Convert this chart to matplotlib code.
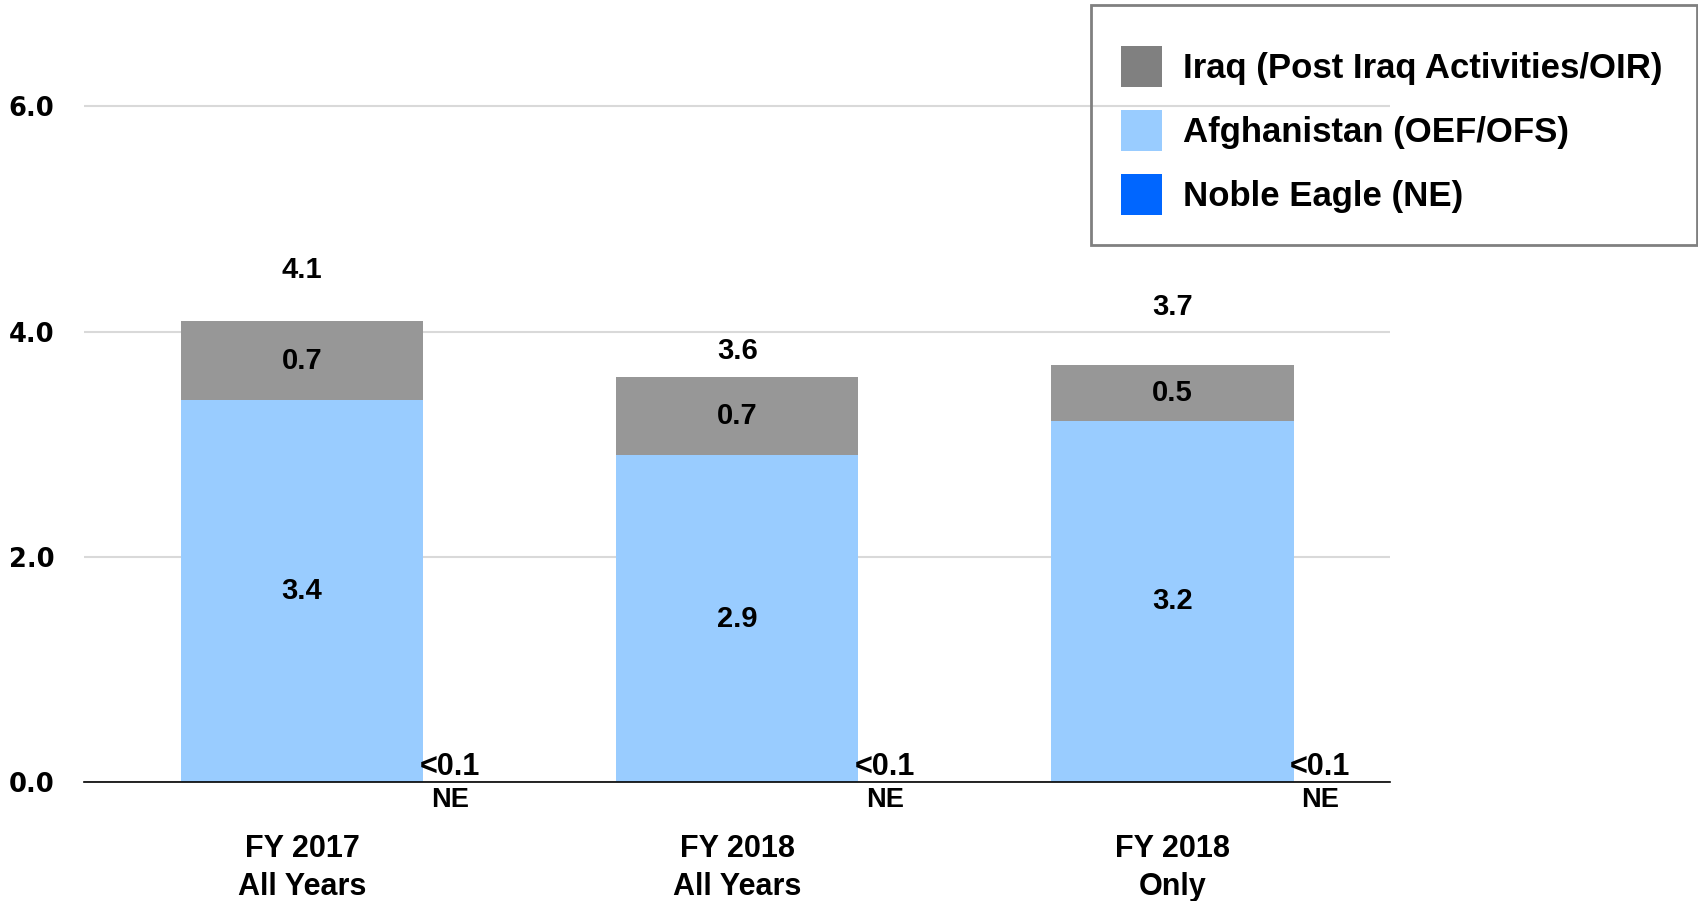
import matplotlib
matplotlib.use("Agg")
import matplotlib.pyplot as plt
from matplotlib.patches import Patch, Rectangle

plt.rcParams['font.family'] = ['Liberation Sans', 'DejaVu Sans']
plt.rcParams['font.weight'] = 'bold'

categories = ["FY 2017\nAll Years", "FY 2018\nAll Years", "FY 2018\nOnly"]
afghanistan = [3.39, 2.90, 3.21]
iraq = [0.70, 0.70, 0.49]
noble_eagle = [0.0, 0.0, 0.0]
afg_labels = ["3.4", "2.9", "3.2"]
iraq_labels = ["0.7", "0.7", "0.5"]
total_labels = ["4.1", "3.6", "3.7"]
total_label_pos = [4.55, 3.83, 4.22]
ne_labels = ["<0.1", "<0.1", "<0.1"]
yticks = [0.0, 2.0, 4.0, 6.0]

c_iraq = "#979797"
c_iraq_leg = "#808080"
c_afg = "#99ccff"
c_ne = "#0066ff"

W, H = 1699, 901
fig = plt.figure(figsize=(W / 100, H / 100), dpi=100)
ax = fig.add_axes([0.0497, 0.132, 0.7684, 0.825])

x = list(range(len(categories)))
w = 0.557
ax.bar(x, afghanistan, width=w, color=c_afg, zorder=2)
ax.bar(x, iraq, width=w, bottom=afghanistan, color=c_iraq, zorder=2)
ne_x = [xi + 0.34 for xi in x]
ax.bar(ne_x, noble_eagle, width=0.05, color=c_ne, zorder=2)

fs = 21
for i in x:
    ax.text(i, afghanistan[i] / 2, afg_labels[i], ha='center', va='center', fontsize=fs, fontweight='bold')
    ax.text(i, afghanistan[i] + iraq[i] / 2, iraq_labels[i], ha='center', va='center', fontsize=fs, fontweight='bold')
    ax.text(i, total_label_pos[i], total_labels[i], ha='center', va='center', fontsize=fs, fontweight='bold')
    ax.text(ne_x[i], noble_eagle[i] + 0.13, ne_labels[i], ha='center', va='center', fontsize=22, fontweight='bold')
    ax.text(ne_x[i], -0.16, "NE", ha='center', va='center', fontsize=19.5, fontweight='bold')

ax.set_xlim(-0.5, 2.5)
ax.set_ylim(0, 6.6)
ax.set_yticks(yticks)
ax.set_yticklabels([f"{v:.1f}" for v in yticks], fontsize=18.5, fontweight='bold',
                   family=['DejaVu Sans'])
ax.yaxis.grid(True, color="#d9d9d9", linewidth=1.5, zorder=0)
ax.set_axisbelow(True)
for s in ['top', 'right', 'left']:
    ax.spines[s].set_visible(False)
ax.spines['bottom'].set_color('black')
ax.spines['bottom'].set_linewidth(1.2)
ax.tick_params(axis='y', length=0, pad=21.5)
ax.tick_params(axis='x', length=0, pad=37.5)
ax.set_xticks(x)
ax.set_xticklabels(categories, fontsize=22, fontweight='bold', linespacing=1.35)

# legend frame
fig.patches.append(Rectangle((1091 / W, 1 - 245 / H), (1697 - 1091) / W, (245 - 4.5) / H,
                             transform=fig.transFigure, fill=False, edgecolor="#808080",
                             linewidth=2, zorder=5))

handles = [Patch(facecolor=c_iraq_leg, label="Iraq (Post Iraq Activities/OIR)"),
           Patch(facecolor=c_afg, label="Afghanistan (OEF/OFS)"),
           Patch(facecolor=c_ne, label="Noble Eagle (NE)")]
leg = fig.legend(handles=handles, loc='upper left', bbox_to_anchor=(1086.5 / W, 1 - 11 / H),
                 frameon=False, prop={'size': 25, 'weight': 'bold'},
                 handlelength=1.18, handleheight=1.44, handletextpad=0.6, labelspacing=0.66,
                 borderpad=1.0, borderaxespad=0)

fig.savefig("out.png", dpi=100)
